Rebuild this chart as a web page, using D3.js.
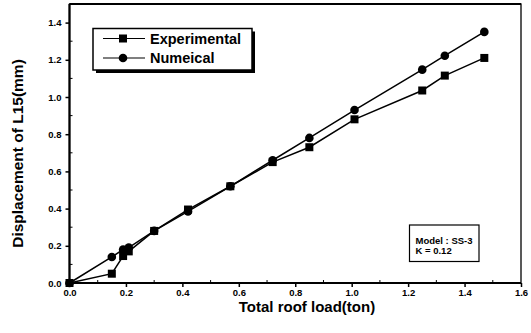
<!DOCTYPE html>
<html>
<head>
<meta charset="utf-8">
<script src="https://cdn.jsdelivr.net/npm/d3@7"></script>
<style>
  body { margin: 0; background: #fff; }
  text { font-family: "Liberation Sans", Arial, sans-serif; fill: #000; }
  .tick-label { font-family: "Liberation Sans Narrow", "Liberation Sans", Arial, sans-serif; font-weight: bold; font-size: 9.5px; }
</style>
</head>
<body>
<svg id="chart" width="531" height="333"></svg>
<script>
// total roof load (ton) at each measurement step
const loads = [0, 0.15, 0.19, 0.21, 0.30, 0.42, 0.57, 0.72, 0.85, 1.01, 1.25, 1.33, 1.47];
const experimental = [0, 0.05, 0.145, 0.17, 0.28, 0.395, 0.52, 0.65, 0.73, 0.88, 1.035, 1.115, 1.21];
const numerical = [0, 0.14, 0.18, 0.19, 0.28, 0.385, 0.52, 0.66, 0.78, 0.93, 1.147, 1.222, 1.35];
const xTicks = [0, 0.2, 0.4, 0.6, 0.8, 1.0, 1.2, 1.4, 1.6];
const yTicks = [0, 0.2, 0.4, 0.6, 0.8, 1.0, 1.2, 1.4];
const seriesNames = ['Experimental', 'Numeical'];
const noteLines = ['Model : SS-3', 'K = 0.12'];

const margin = {top: 4, right: 10, bottom: 50, left: 69.5};
const width = 531 - margin.left - margin.right;
const height = 333 - margin.top - margin.bottom;

const svg = d3.select('#chart');
const chart = svg.append('g')
  .attr('transform', 'translate(' + margin.left + ',' + margin.top + ')');

const x = d3.scaleLinear().domain([0, 1.6]).range([0, width]);
const y = d3.scaleLinear().domain([0, 1.5]).range([height, 0]);

// minor ticks (inside)
const xMinor = d3.range(0.1, 1.6, 0.2);
const yMinor = d3.range(0.1, 1.5, 0.2);
chart.selectAll('.xminor').data(xMinor).enter().append('line')
  .attr('x1', d => x(d)).attr('x2', d => x(d))
  .attr('y1', height).attr('y2', height - 3)
  .attr('stroke', '#000').attr('stroke-width', 1);
chart.selectAll('.yminor').data(yMinor).enter().append('line')
  .attr('x1', 0).attr('x2', 3)
  .attr('y1', d => y(d)).attr('y2', d => y(d))
  .attr('stroke', '#000').attr('stroke-width', 1);

const xAxis = d3.axisBottom(x).tickValues(xTicks).tickSize(4).tickPadding(2)
  .tickFormat(d3.format('.1f'));
const yAxis = d3.axisLeft(y).tickValues(yTicks).tickSize(4).tickPadding(4)
  .tickFormat(d3.format('.1f'));

const gx = chart.append('g').attr('transform', 'translate(0,' + height + ')').call(xAxis);
const gy = chart.append('g').call(yAxis);
[gx, gy].forEach(g => {
  g.select('.domain').remove();
  g.selectAll('line').attr('stroke', '#000').attr('stroke-width', 1.5);
  g.selectAll('text').attr('class', 'tick-label').attr('font-size', null).attr('font-family', null);
});

// frame
chart.append('rect')
  .attr('x', 0).attr('y', 0).attr('width', width).attr('height', height)
  .attr('fill', 'none').attr('stroke', '#000').attr('stroke-width', 1.3);
chart.append('line').attr('x1', 0).attr('x2', 0).attr('y1', 0).attr('y2', height)
  .attr('stroke', '#000').attr('stroke-width', 2.2);
chart.append('line').attr('x1', 0).attr('x2', width).attr('y1', height).attr('y2', height)
  .attr('stroke', '#000').attr('stroke-width', 2.2);
chart.append('line').attr('x1', 0).attr('x2', width).attr('y1', 0).attr('y2', 0)
  .attr('stroke', '#000').attr('stroke-width', 2);

const line = d3.line().x(d => x(d[0])).y(d => y(d[1]));
const expPts = loads.map((l, i) => [l, experimental[i]]);
const numPts = loads.map((l, i) => [l, numerical[i]]);

chart.append('path').datum(expPts).attr('d', line)
  .attr('fill', 'none').attr('stroke', '#000').attr('stroke-width', 1.5);
chart.append('path').datum(numPts).attr('d', line)
  .attr('fill', 'none').attr('stroke', '#000').attr('stroke-width', 1.5);

chart.selectAll('.sq').data(expPts).enter().append('rect')
  .attr('x', d => x(d[0]) - 4).attr('y', d => y(d[1]) - 4)
  .attr('width', 8).attr('height', 8).attr('fill', '#000');
chart.selectAll('.ci').data(numPts).enter().append('circle')
  .attr('cx', d => x(d[0])).attr('cy', d => y(d[1])).attr('r', 4.3).attr('fill', '#000');

// legend
const legend = svg.append('g').attr('transform', 'translate(93,28.5)');
legend.append('rect').attr('x', 3).attr('y', 3).attr('width', 159).attr('height', 41.5).attr('fill', '#000');
legend.append('rect').attr('x', 0).attr('y', 0).attr('width', 159).attr('height', 41.5)
  .attr('fill', '#fff').attr('stroke', '#000').attr('stroke-width', 1.5);
seriesNames.forEach((name, i) => {
  const cy = 10 + 19.5 * i;
  legend.append('line').attr('x1', 10).attr('x2', 52).attr('y1', cy).attr('y2', cy)
    .attr('stroke', '#000').attr('stroke-width', 1.2);
  if (i === 0) {
    legend.append('rect').attr('x', 26).attr('y', cy - 4).attr('width', 8).attr('height', 8).attr('fill', '#000');
  } else {
    legend.append('circle').attr('cx', 30).attr('cy', cy).attr('r', 4.3).attr('fill', '#000');
  }
  legend.append('text').attr('x', 57).attr('y', cy + 5)
    .attr('font-size', 14.5).attr('font-weight', 'bold').text(name);
});

// model note
const note = svg.append('g').attr('transform', 'translate(409.5,225)');
note.append('rect').attr('width', 69.5).attr('height', 36.5)
  .attr('fill', '#fff').attr('stroke', '#000').attr('stroke-width', 1.2);
noteLines.forEach((t, i) => {
  note.append('text').attr('x', 6).attr('y', 18.5 + 10.5 * i)
    .attr('class', 'tick-label').style('font-size', '9.5px').text(t);
});

// axis titles
svg.append('text').attr('x', 307).attr('y', 312).attr('text-anchor', 'middle')
  .attr('font-size', 15).attr('font-weight', 'bold').text('Total roof load(ton)');
svg.append('text').attr('transform', 'translate(23,153.5) rotate(-90)').attr('text-anchor', 'middle')
  .attr('font-size', 15.5).attr('font-weight', 'bold').text('Displacement of L15(mm)');
</script>
</body>
</html>
